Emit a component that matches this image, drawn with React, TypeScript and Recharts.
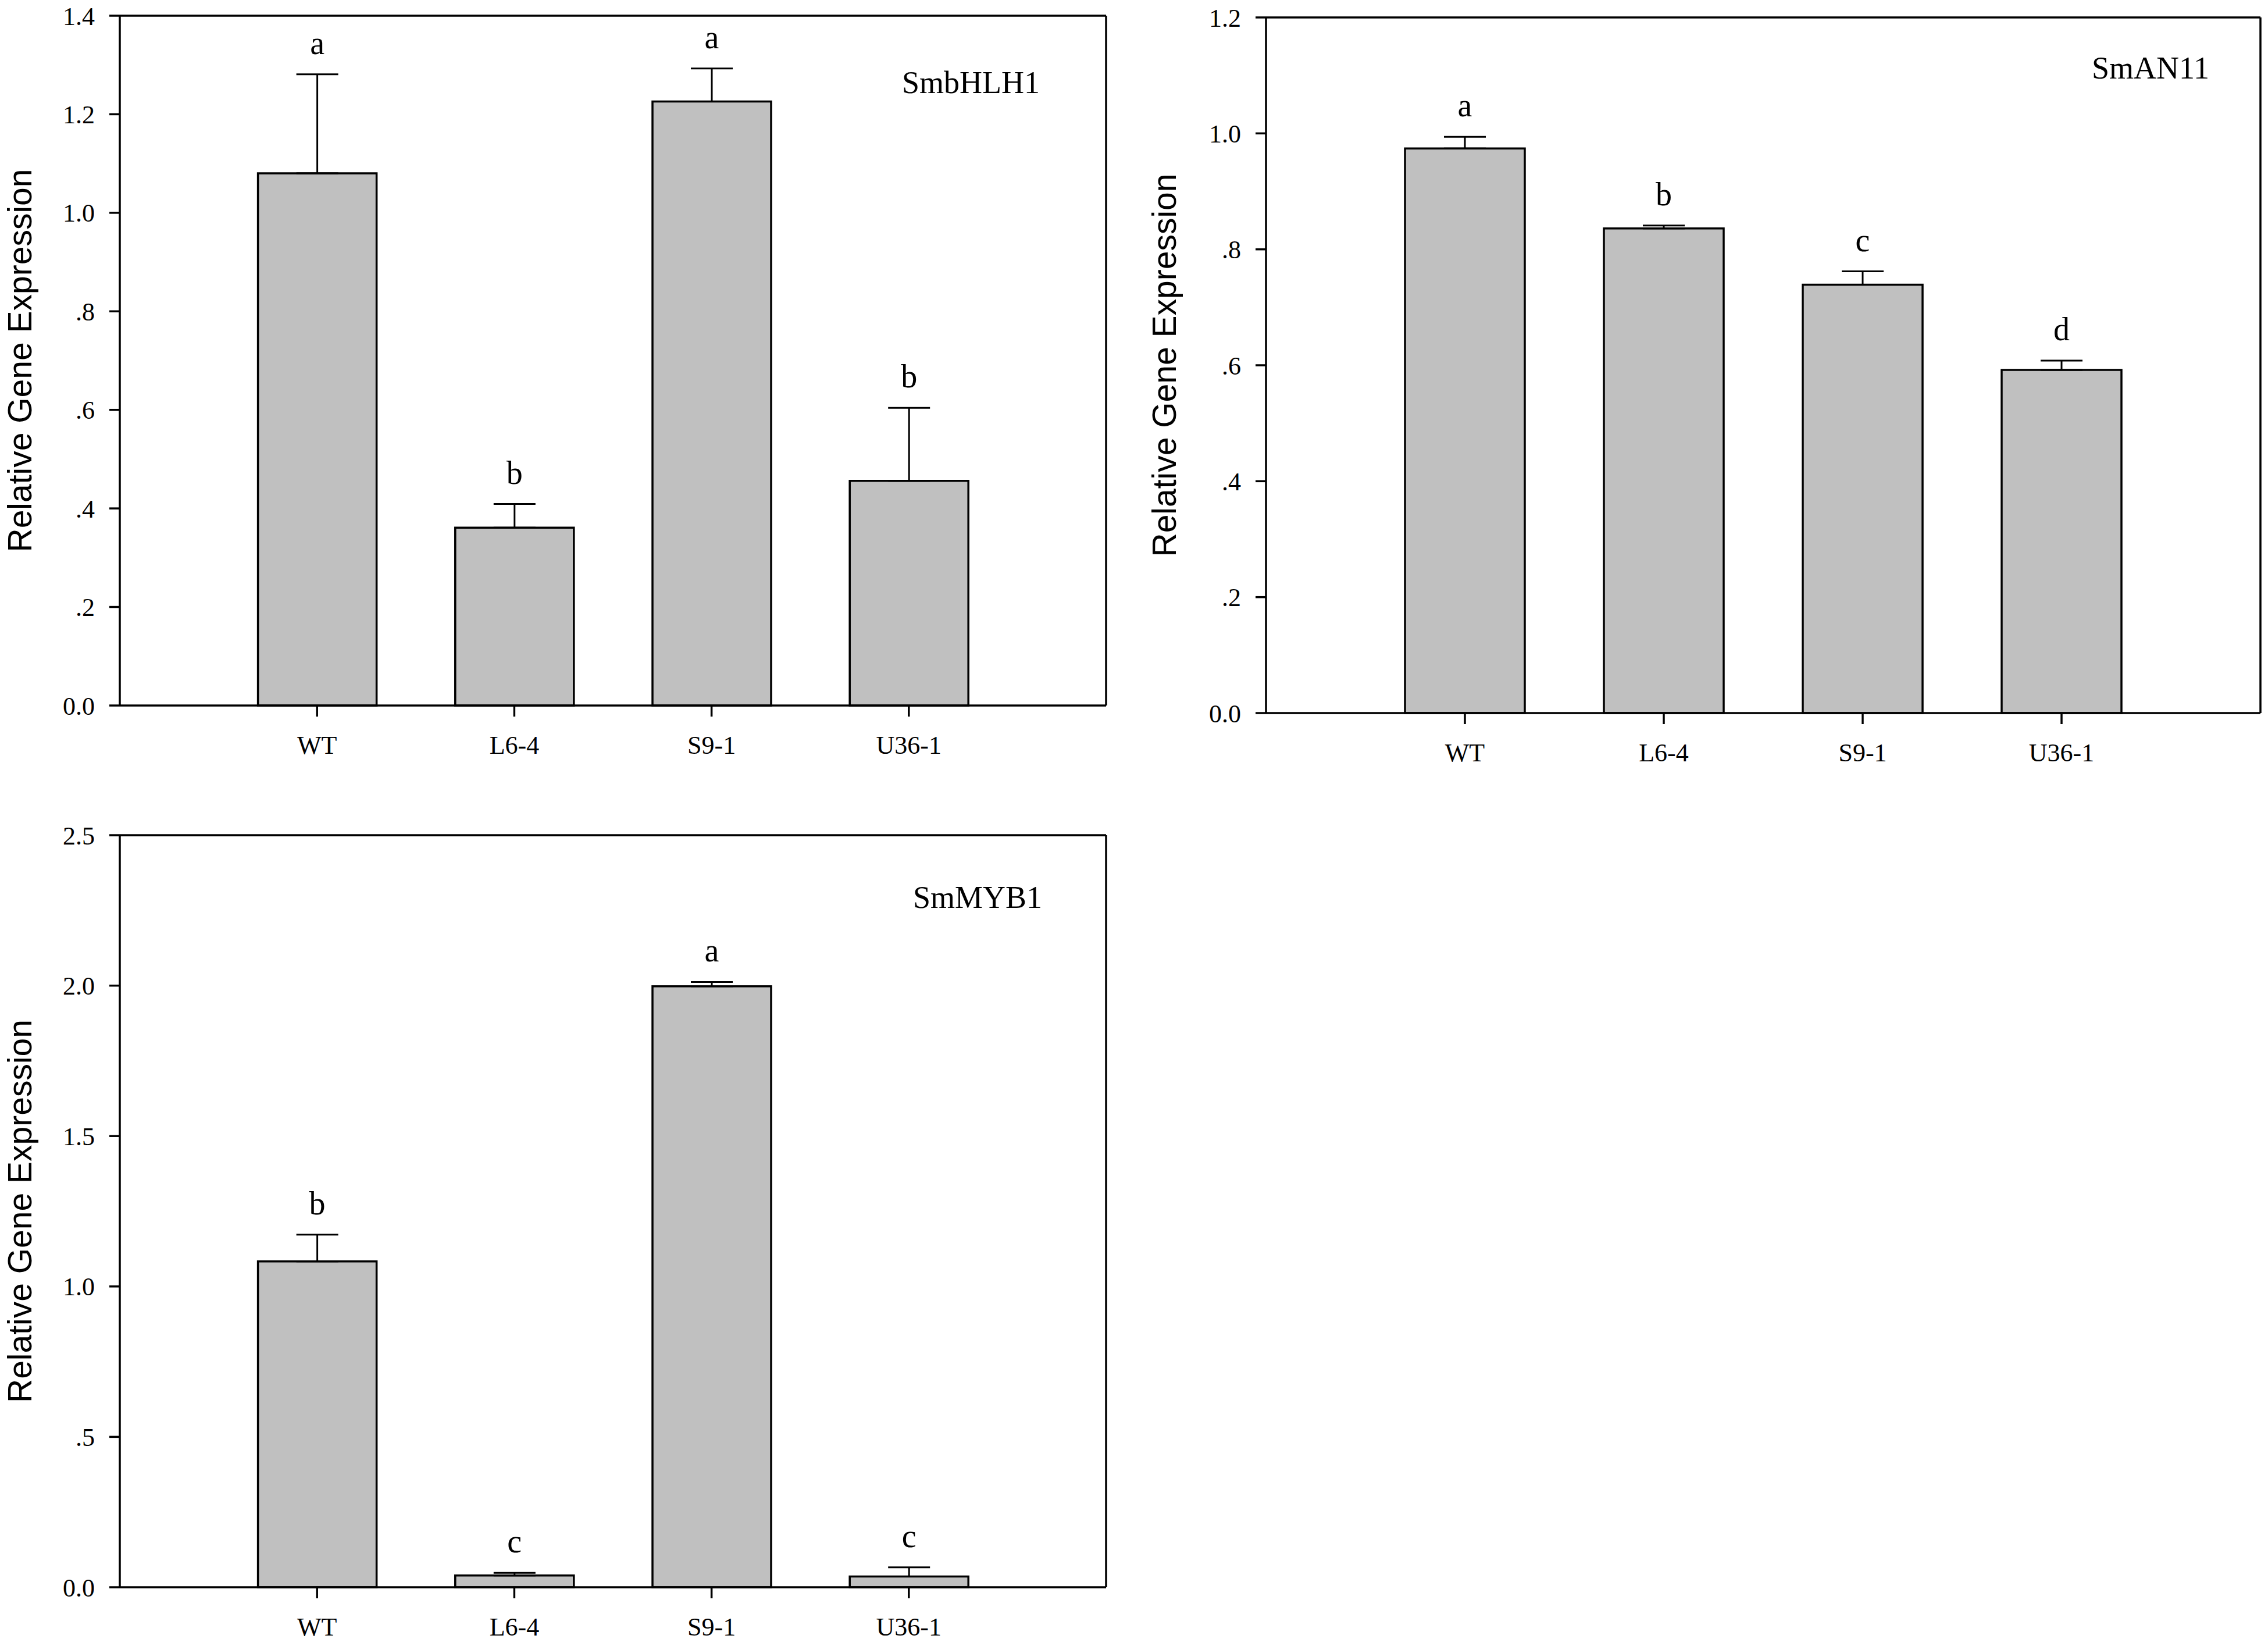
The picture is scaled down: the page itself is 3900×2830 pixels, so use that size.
import React from 'react';
import {
  BarChart, Bar, XAxis, YAxis, ErrorBar, LabelList, Customized,
} from 'recharts';

const CATEGORIES = ['WT', 'L6-4', 'S9-1', 'U36-1'];

const BHLH_VALUES = [1.08, 0.361, 1.226, 0.456];
const BHLH_ERRORS = [0.201, 0.048, 0.067, 0.148];
const BHLH_LETTERS = ['a', 'b', 'a', 'b'];
const BHLH_TICKS = [0, 0.2, 0.4, 0.6, 0.8, 1.0, 1.2, 1.4];
const BHLH_TICK_LABELS = ['0.0', '.2', '.4', '.6', '.8', '1.0', '1.2', '1.4'];

const AN11_VALUES = [0.974, 0.836, 0.739, 0.592];
const AN11_ERRORS = [0.02, 0.005, 0.023, 0.016];
const AN11_LETTERS = ['a', 'b', 'c', 'd'];
const AN11_TICKS = [0, 0.2, 0.4, 0.6, 0.8, 1.0, 1.2];
const AN11_TICK_LABELS = ['0.0', '.2', '.4', '.6', '.8', '1.0', '1.2'];

const MYB1_VALUES = [1.083, 0.039, 1.998, 0.036];
const MYB1_ERRORS = [0.089, 0.009, 0.014, 0.03];
const MYB1_LETTERS = ['b', 'c', 'a', 'c'];
const MYB1_TICKS = [0, 0.5, 1.0, 1.5, 2.0, 2.5];
const MYB1_TICK_LABELS = ['0.0', '.5', '1.0', '1.5', '2.0', '2.5'];

const TOP = 40;
const RIGHT = 20;
const AXIS_H = 100;

const SERIF = '"Liberation Serif", "Times New Roman", serif';
const SANS = '"Liberation Sans", Arial, sans-serif';
const axisLine = { stroke: '#000', strokeWidth: 3.5 };

interface Box { x0: number; y0: number; x1: number; y1: number }

interface PanelProps {
  box: Box;
  values: number[];
  errors: number[];
  letters: string[];
  ticks: number[];
  tickLabels: string[];
  gene: string;
  genePos: [number, number];
  titleX: number;
  barSize: number;
}

function Panel({ box, values, errors, letters, ticks, tickLabels, gene, genePos, titleX, barSize }: PanelProps) {
  const plotW = box.x1 - box.x0;
  const plotH = box.y1 - box.y0;
  // axis area reaches back to the page edge / gap between panels
  const axisW = box.x0 - titleX + 40;
  const width = plotW + axisW + RIGHT;
  const height = plotH + TOP + AXIS_H;

  const rows = CATEGORIES.map((name, i) => ({
    name,
    value: values[i],
    err: [0, errors[i]],
    letter: letters[i],
  }));

  // letter sits a little above the top of the error bar
  const renderLetter = (props: any) => {
    const vb = props.viewBox ?? props;
    const { x, y, width: w, height: h } = vb;
    const i = props.index;
    const perUnit = h / values[i];
    const errTop = y - errors[i] * perUnit;
    return (
      <text x={x + w / 2} y={errTop - 35} textAnchor="middle" fontFamily={SERIF} fontSize={56} fill="#000">
        {props.value}
      </text>
    );
  };

  return (
    <div style={{ position: 'absolute', left: box.x0 - axisW, top: box.y0 - TOP, width, height }}>
      <BarChart
        width={width}
        height={height}
        data={rows}
        margin={{ top: TOP - 1, right: RIGHT - 1, bottom: 0, left: 0 }}
        barSize={barSize}
      >
        <XAxis
          dataKey="name"
          height={AXIS_H}
          interval={0}
          padding={{ left: plotW / 10, right: plotW / 10 }}
          axisLine={axisLine}
          tickLine={axisLine}
          tickSize={19}
          tickMargin={33}
          tick={{ fill: '#000', fontSize: 44, fontFamily: SERIF }}
        />
        <XAxis
          xAxisId="top"
          orientation="top"
          dataKey="name"
          height={1}
          tick={false}
          tickLine={false}
          axisLine={axisLine}
        />
        <YAxis
          width={axisW}
          domain={[0, ticks[ticks.length - 1]]}
          ticks={ticks}
          interval={0}
          tickFormatter={(v: number) => tickLabels[ticks.indexOf(v)] ?? String(v)}
          axisLine={axisLine}
          tickLine={axisLine}
          tickSize={18}
          tickMargin={25}
          tick={{ fill: '#000', fontSize: 44, fontFamily: SERIF }}
          label={{
            value: 'Relative Gene Expression',
            angle: -90,
            position: 'insideLeft',
            offset: 40,
            style: { textAnchor: 'middle', fontSize: 57, fontFamily: SANS, fill: '#000' },
          }}
        />
        <YAxis
          yAxisId="right"
          orientation="right"
          width={1}
          domain={[0, 1]}
          tick={false}
          tickLine={false}
          axisLine={axisLine}
        />
        <Bar dataKey="value" fill="#c0c0c0" stroke="#000" strokeWidth={3.5} isAnimationActive={false}>
          <ErrorBar dataKey="err" width={36} stroke="#000" strokeWidth={3} direction="y" />
          <LabelList dataKey="letter" content={renderLetter} />
        </Bar>
        <Customized
          component={() => (
            <text x={axisW + genePos[0]} y={TOP + genePos[1]} fontFamily={SERIF} fontSize={54} fill="#000">
              {gene}
            </text>
          )}
        />
      </BarChart>
    </div>
  );
}

export default function App() {
  return (
    <div style={{ position: 'absolute', left: 0, top: 0, width: 3900, height: 2830, background: '#fff', overflow: 'hidden' }}>
      <Panel
        box={{ x0: 206, y0: 27, x1: 1902, y1: 1213 }}
        values={BHLH_VALUES}
        errors={BHLH_ERRORS}
        letters={BHLH_LETTERS}
        ticks={BHLH_TICKS}
        tickLabels={BHLH_TICK_LABELS}
        gene="SmbHLH1"
        genePos={[1345, 133]}
        titleX={34}
        barSize={204}
      />
      <Panel
        box={{ x0: 2177, y0: 30, x1: 3887, y1: 1226 }}
        values={AN11_VALUES}
        errors={AN11_ERRORS}
        letters={AN11_LETTERS}
        ticks={AN11_TICKS}
        tickLabels={AN11_TICK_LABELS}
        gene="SmAN11"
        genePos={[1420, 105]}
        titleX={2002}
        barSize={206}
      />
      <Panel
        box={{ x0: 206, y0: 1436, x1: 1902, y1: 2729 }}
        values={MYB1_VALUES}
        errors={MYB1_ERRORS}
        letters={MYB1_LETTERS}
        ticks={MYB1_TICKS}
        tickLabels={MYB1_TICK_LABELS}
        gene="SmMYB1"
        genePos={[1364, 125]}
        titleX={34}
        barSize={204}
      />
    </div>
  );
}
